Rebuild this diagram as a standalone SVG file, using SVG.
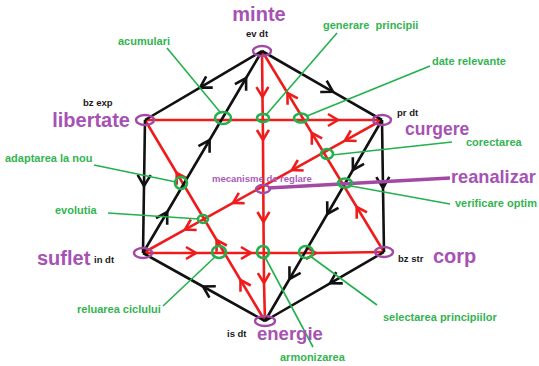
<svg xmlns="http://www.w3.org/2000/svg" width="539" height="366" viewBox="0 0 539 366">
<style>
.bk{fill:none;stroke:#111;stroke-width:2.6;stroke-linejoin:round;marker-mid:url(#ab)}
.rd{fill:none;stroke:#f01c1c;stroke-width:2.6;stroke-linejoin:round;marker-mid:url(#ar)}
.gl{stroke:#22b14c;stroke-width:1.6;fill:none}
.gn{fill:none;stroke:#22b14c;stroke-width:2.6}
.pn{fill:none;stroke:#a349a4;stroke-width:2.4}
.big{font-family:"Liberation Sans",Arial,sans-serif;font-weight:bold;font-size:20px;fill:#a652b4}
.gt{font-family:"Liberation Sans",Arial,sans-serif;font-weight:bold;font-size:11px;fill:#33b450}
.bt{font-family:"Liberation Sans",Arial,sans-serif;font-weight:bold;font-size:9.5px;fill:#1a1a1a}
.mt{font-family:"Liberation Sans",Arial,sans-serif;font-weight:bold;font-size:9.5px;fill:#a95cba}
</style>
<defs>
<marker id="ab" markerUnits="userSpaceOnUse" markerWidth="20" markerHeight="20" refX="0" refY="0" orient="auto" overflow="visible"><path d="M-11,-6.5 L0,0 L-11,6.5" fill="none" stroke="#111" stroke-width="2.6"/></marker>
<marker id="ar" markerUnits="userSpaceOnUse" markerWidth="20" markerHeight="20" refX="0" refY="0" orient="auto" overflow="visible"><path d="M-10,-6 L0,0 L-10,6" fill="none" stroke="#f01c1c" stroke-width="2.6"/></marker>
</defs>
<g id="connectors">
<polyline class="rd" points="145,120 338,120 382,120"/>
<polyline class="rd" points="143,253 196,253 251,253 316,253 384,252"/>
<polyline class="rd" points="262,51 262.5,97 263,140 263.5,222 264,283 265,321"/>
<polyline class="rd" points="265,321 240.5,280 216.6,240 176.7,173 145,120"/>
<polyline class="rd" points="384,252 356.7,207 311.8,133 287.5,93 262,51"/>
<polyline class="rd" points="382,120 345,140.6 292,170.1 233,202.9 185,229.6 143,253"/>
<polyline class="bk" points="262,51 200,87.6 145,120"/>
<polyline class="bk" points="262,51 333,91.8 382,120"/>
<polyline class="bk" points="145,120 144,186 143,253"/>
<polyline class="bk" points="382,120 383,188 384,252"/>
<polyline class="bk" points="265,321 203,286.5 143,253"/>
<polyline class="bk" points="384,252 330,283.3 265,321"/>
<polyline class="bk" points="143,253 167.2,212 209.6,140 246.1,78 262,51"/>
<polyline class="bk" points="382,120 352.9,170 327.3,214 289.5,279 265,321"/>
<line x1="268" y1="188" x2="450" y2="178" stroke="#a349a4" stroke-width="3.4"/>
<line class="gl" x1="167" y1="48" x2="220" y2="112"/>
<line class="gl" x1="337" y1="33" x2="266" y2="115"/>
<line class="gl" x1="430" y1="66" x2="307" y2="116"/>
<line class="gl" x1="452" y1="142" x2="332" y2="155"/>
<line class="gl" x1="94" y1="165" x2="176" y2="182"/>
<line class="gl" x1="450" y1="204" x2="351" y2="186"/>
<line class="gl" x1="108" y1="213" x2="199" y2="219"/>
<line class="gl" x1="163" y1="306" x2="216" y2="256"/>
<line class="gl" x1="265" y1="257" x2="313" y2="347"/>
<line class="gl" x1="310" y1="256" x2="377" y2="305"/>
</g>
<g id="n-minte"><ellipse class="pn" cx="262" cy="51" rx="9" ry="5"/><text class="big" x="259" y="21" text-anchor="middle">minte</text><text class="bt" x="257" y="37" text-anchor="middle">ev dt</text></g>
<g id="n-libertate"><ellipse class="pn" cx="145" cy="120" rx="9" ry="5"/><text class="big" x="130" y="127" text-anchor="end">libertate</text><text class="bt" x="83" y="106">bz exp</text></g>
<g id="n-curgere"><ellipse class="pn" cx="382" cy="120" rx="9" ry="5"/><text class="big" x="405" y="135" style="font-size:17.5px">curgere</text><text class="bt" x="397" y="116">pr dt</text></g>
<g id="n-suflet"><ellipse class="pn" cx="143" cy="253" rx="9" ry="5"/><text class="big" x="37" y="265">suflet</text><text class="bt" x="94" y="263">in dt</text></g>
<g id="n-corp"><ellipse class="pn" cx="384" cy="252" rx="9" ry="5"/><text class="big" x="433" y="263">corp</text><text class="bt" x="398" y="262">bz str</text></g>
<g id="n-energie"><ellipse class="pn" cx="265" cy="321" rx="10" ry="5"/><text class="big" x="257" y="340" style="font-size:18.5px">energie</text><text class="bt" x="227" y="337">is dt</text></g>
<g id="n-mecanisme"><ellipse class="pn" cx="263" cy="189" rx="7" ry="4"/><text class="mt" x="212" y="182">mecanisme de reglare</text></g>
<g id="n-reanalizare"><text class="big" x="451" y="183" style="font-size:18.2px">reanalizar</text></g>
<g id="n-acumulari"><ellipse class="gn" cx="223" cy="118" rx="8" ry="6"/><text class="gt" x="118" y="45">acumulari</text></g>
<g id="n-generare"><ellipse class="gn" cx="263" cy="118" rx="6" ry="4"/><text class="gt" x="323" y="29" xml:space="preserve">generare  principii</text></g>
<g id="n-date"><ellipse class="gn" cx="301" cy="118" rx="7" ry="4.5"/><text class="gt" x="432" y="65">date relevante</text></g>
<g id="n-corectarea"><ellipse class="gn" cx="327" cy="154" rx="6" ry="5"/><text class="gt" x="466" y="146">corectarea</text></g>
<g id="n-verificare"><ellipse class="gn" cx="345" cy="183" rx="7" ry="4.5"/><text class="gt" x="455" y="207">verificare optim</text></g>
<g id="n-adaptarea"><ellipse class="gn" cx="181" cy="183" rx="6" ry="6"/><text class="gt" x="5" y="162">adaptarea la nou</text></g>
<g id="n-evolutia"><ellipse class="gn" cx="203" cy="219" rx="5" ry="4"/><text class="gt" x="55" y="214">evolutia</text></g>
<g id="n-reluarea"><ellipse class="gn" cx="219" cy="252" rx="7" ry="6"/><text class="gt" x="77" y="313">reluarea ciclului</text></g>
<g id="n-armonizarea"><ellipse class="gn" cx="263" cy="252" rx="6" ry="6"/><text class="gt" x="280" y="361">armonizarea</text></g>
<g id="n-selectarea"><ellipse class="gn" cx="306" cy="252" rx="7" ry="6"/><text class="gt" x="383" y="321">selectarea principiilor</text></g>
</svg>
